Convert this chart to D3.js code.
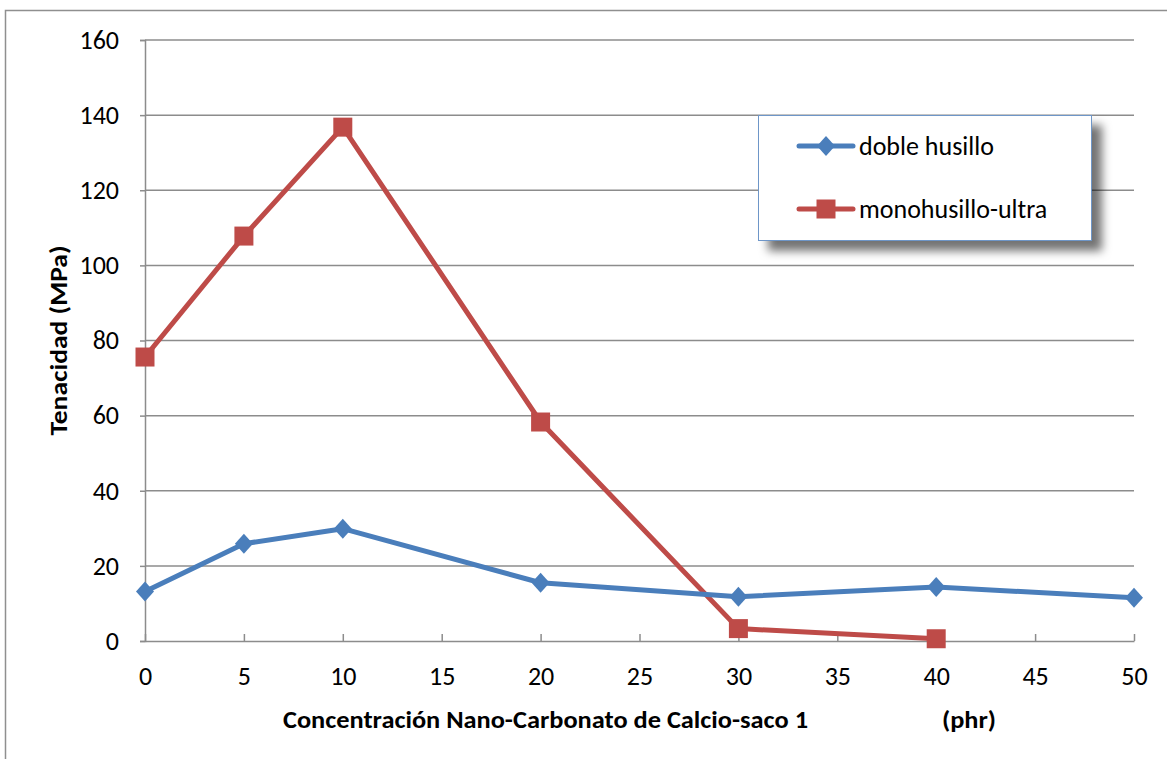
<!DOCTYPE html>
<html>
<head>
<meta charset="utf-8">
<script src="https://cdn.jsdelivr.net/npm/d3@7"></script>
<style>
  html, body { margin: 0; padding: 0; background: #fff; }
  svg { display: block; font-family: Carlito, Calibri, "Open Sans", Lato, sans-serif; }
</style>
</head>
<body>
<svg id="chart" width="1167" height="759"></svg>
<script>
// Concentration (phr) and toughness values for the two extrusion setups
const concentrations = [0, 5, 10, 20, 30, 40, 50];
const dobleHusillo = [13.2, 25.9, 29.9, 15.5, 11.8, 14.4, 11.5];
const monoConc = [0, 5, 10, 20, 30, 40];
const monohusilloUltra = [75.6, 107.8, 136.8, 58.3, 3.3, 0.6];
const xTicks = [0, 5, 10, 15, 20, 25, 30, 35, 40, 45, 50];
const yTicks = [0, 20, 40, 60, 80, 100, 120, 140, 160];
const seriesNames = ["doble husillo", "monohusillo-ultra"];
const seriesColors = ["#4A7EBB", "#BE4B48"];

const FONT = "Carlito, Calibri, 'Open Sans', Lato, sans-serif";
const svg = d3.select("#chart");
const margin = { left: 145, right: 1134, top: 40, bottom: 641 };

const x = d3.scaleLinear().domain([0, 50]).range([margin.left, margin.right]);
const y = d3.scaleLinear().domain([0, 160]).range([margin.bottom, margin.top]);

const defs = svg.append("defs");
const f = defs.append("filter").attr("id", "shadow")
  .attr("x", "-20%").attr("y", "-20%").attr("width", "150%").attr("height", "160%");
f.append("feDropShadow").attr("dx", 10).attr("dy", 10).attr("stdDeviation", 5)
  .attr("flood-color", "#000").attr("flood-opacity", 0.55);

// outer chart frame (top and left edges)
svg.append("path")
  .attr("d", "M5.5,759 V10.5 H1167")
  .attr("fill", "none").attr("stroke", "#8f8f8f").attr("stroke-width", 1.5);

// horizontal gridlines
svg.append("g").selectAll("line").data(yTicks.filter(d => d > 0)).join("line")
  .attr("x1", margin.left).attr("x2", margin.right)
  .attr("y1", d => y(d)).attr("y2", d => y(d))
  .attr("stroke", "#8c8c8c").attr("stroke-width", 1.5);

// y axis
const yAxis = svg.append("g").attr("transform", `translate(${margin.left},0)`)
  .call(d3.axisLeft(y).tickValues(yTicks).tickSize(5).tickPadding(21));
yAxis.select(".domain").attr("stroke", "#8c8c8c").attr("stroke-width", 1.5);
yAxis.selectAll(".tick line").attr("stroke", "#8c8c8c").attr("stroke-width", 1.5);
yAxis.selectAll(".tick text").attr("font-size", 26).attr("fill", "#000")
  .attr("font-family", FONT);

// x axis with inward ticks
const xAxis = svg.append("g").attr("transform", `translate(0,${margin.bottom})`)
  .call(d3.axisBottom(x).tickValues(xTicks).tickSizeInner(-7).tickSizeOuter(0).tickPadding(26));
xAxis.select(".domain").attr("stroke", "#8c8c8c").attr("stroke-width", 1.5);
xAxis.selectAll(".tick line").attr("stroke", "#8c8c8c").attr("stroke-width", 1.5);
xAxis.selectAll(".tick text").attr("font-size", 26).attr("fill", "#000")
  .attr("font-family", FONT);

// axis titles
svg.append("text").attr("x", 283).attr("y", 728)
  .attr("font-size", 25).attr("font-weight", "bold")
  .attr("textLength", 525).attr("lengthAdjust", "spacingAndGlyphs")
  .text("Concentración Nano-Carbonato de Calcio-saco 1");
svg.append("text").attr("x", 969).attr("y", 728).attr("text-anchor", "middle")
  .attr("font-size", 25).attr("font-weight", "bold")
  .attr("textLength", 54).attr("lengthAdjust", "spacingAndGlyphs").text("(phr)");
svg.append("text")
  .attr("transform", `translate(67,${(margin.top + margin.bottom) / 2}) rotate(-90)`)
  .attr("text-anchor", "middle").attr("font-size", 24).attr("font-weight", "bold")
  .attr("textLength", 190).attr("lengthAdjust", "spacingAndGlyphs")
  .text("Tenacidad (MPa)");

const line = d3.line().x(d => x(d[0])).y(d => y(d[1]));
const blueData = concentrations.map((c, i) => [c, dobleHusillo[i]]);
const redData = monoConc.map((c, i) => [c, monohusilloUltra[i]]);

// rhombus marker slightly taller than wide
const rhombus = {
  draw(ctx) {
    ctx.moveTo(0, -10); ctx.lineTo(9, 0); ctx.lineTo(0, 10); ctx.lineTo(-9, 0); ctx.closePath();
  }
};
const diamond = d3.symbol().type(rhombus);
const square = d3.symbol().type(d3.symbolSquare).size(361);

// red series
svg.append("path").datum(redData).attr("d", line)
  .attr("fill", "none").attr("stroke", seriesColors[1]).attr("stroke-width", 5)
  .attr("stroke-linejoin", "round");
svg.append("g").selectAll("path").data(redData).join("path")
  .attr("transform", d => `translate(${x(d[0])},${y(d[1])})`)
  .attr("d", square).attr("fill", seriesColors[1]);

// blue series
svg.append("path").datum(blueData).attr("d", line)
  .attr("fill", "none").attr("stroke", seriesColors[0]).attr("stroke-width", 5)
  .attr("stroke-linejoin", "round");
svg.append("g").selectAll("path").data(blueData).join("path")
  .attr("transform", d => `translate(${x(d[0])},${y(d[1])})`)
  .attr("d", diamond).attr("fill", seriesColors[0]);

// legend
const lg = svg.append("g");
lg.append("rect").attr("x", 758.5).attr("y", 115.5).attr("width", 333).attr("height", 125)
  .attr("fill", "#fff").attr("stroke", "#6e96c8").attr("stroke-width", 1)
  .attr("filter", "url(#shadow)");
const rows = [146, 209];
const symbols = [diamond, square];
seriesNames.forEach((name, i) => {
  lg.append("line").attr("x1", 799).attr("x2", 853).attr("y1", rows[i]).attr("y2", rows[i])
    .attr("stroke", seriesColors[i]).attr("stroke-width", 5).attr("stroke-linecap", "round");
  lg.append("path").attr("transform", `translate(826,${rows[i]})`)
    .attr("d", symbols[i]).attr("fill", seriesColors[i]);
  lg.append("text").attr("x", 859).attr("y", rows[i] + 9).attr("font-size", 26).text(name);
});
</script>
</body>
</html>
